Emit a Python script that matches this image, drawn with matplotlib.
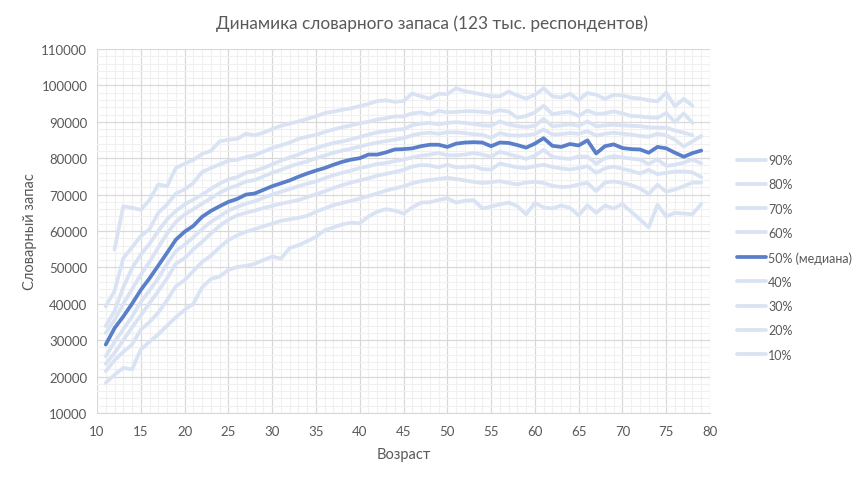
import matplotlib
matplotlib.use("Agg")
import matplotlib.pyplot as plt
from matplotlib.ticker import MultipleLocator
import numpy as np

plt.rcParams['font.family'] = ['Lato', 'DejaVu Sans']

ages_main = list(range(11, 80))      # 11..79
ages_90 = list(range(12, 79))        # 12..78
ages_80 = list(range(11, 79))        # 11..78
ages_70 = list(range(11, 79))        # 11..78

p90 = [54900, 66800, 66400, 65800, 68500, 72800, 72300, 77300, 78500, 79500,
       81200, 82000, 84600, 85100, 85300, 86700, 86300, 87000, 88000, 88900,
       89500, 90100, 90800, 91500, 92400, 92800, 93300, 93700, 94300, 94900,
       95700, 95900, 95500, 95700, 97800, 97000, 96400, 97700, 97600, 99200,
       98400, 98000, 97500, 97000, 97000, 98300, 97200, 96400, 97400, 99200,
       97000, 96700, 97700, 96000, 97900, 97400, 96300, 97400, 97300, 96600,
       96400, 95900, 95600, 98000, 94300, 96300, 94400]

p80 = [39300, 43500, 52500, 55500, 58600, 60500, 65000, 67300, 70300, 71400,
       73200, 76200, 77300, 78300, 79300, 79600, 80300, 80800, 81800, 82800,
       83500, 84300, 85300, 85900, 86400, 87200, 87900, 88500, 89000, 89600,
       90000, 90600, 91000, 91500, 91500, 92300, 92600, 92000, 93000, 92600,
       92700, 92900, 92900, 92700, 92500, 93200, 92800, 91100, 91600, 92600,
       94400, 92100, 92500, 92700, 91600, 93100, 92200, 92300, 92900, 92300,
       91600, 91500, 91200, 91100, 92400, 89900, 92300, 89700]

p70 = [33900, 38000, 44500, 49800, 53500, 56500, 60000, 63200, 65500, 67300,
       68600, 70000, 71600, 73000, 74200, 74800, 76000, 76500, 77300, 78300,
       79300, 80200, 81000, 82000, 82700, 83500, 84200, 84600, 85200, 85800,
       86500, 87100, 87400, 87800, 88000, 89100, 89500, 89700, 89300, 89700,
       89900, 89700, 89400, 89000, 88900, 90100, 89300, 88800, 88600, 88900,
       90800, 88800, 89000, 89300, 88900, 90100, 88800, 89000, 89200, 89000,
       88900, 88800, 88500, 88400, 88400, 87600, 87000, 86300]

p60 = [32000, 35500, 40000, 44000, 48000, 51500, 55500, 59300, 62500, 64500,
       66000, 67500, 69000, 70500, 71700, 72500, 73600, 74000, 75000, 76000,
       76800, 77700, 78500, 79100, 80000, 80700, 81500, 82100, 82600, 83200,
       83800, 84300, 84700, 85100, 85500, 86300, 86800, 87000, 86700, 87100,
       87100, 86900, 86600, 86400, 85600, 86900, 86300, 86200, 86300, 86600,
       87900, 86500, 86600, 86900, 86700, 87400, 86200, 86700, 87000, 86700,
       86500, 86100, 85900, 86700, 86300, 85100, 83200, 84600, 86100]

p50 = [28800, 33300, 36500, 40000, 43800, 47000, 50500, 54000, 57600, 59800,
       61400, 63900, 65500, 66800, 68000, 68800, 70000, 70300, 71300, 72300,
       73100, 73900, 74900, 75800, 76600, 77300, 78200, 79000, 79600, 80000,
       81000, 81000, 81600, 82400, 82500, 82700, 83300, 83700, 83700, 83100,
       84000, 84300, 84400, 84300, 83300, 84300, 84200, 83600, 82900, 84000,
       85500, 83400, 83100, 83900, 83500, 84900, 81300, 83300, 83800, 82800,
       82500, 82400, 81500, 83100, 82700, 81500, 80400, 81400, 82100]

p40 = [25600, 29500, 33000, 36500, 40500, 43700, 47000, 51000, 54500, 56200,
       58300, 60500, 62500, 64000, 65600, 66600, 67500, 68200, 69100, 70000,
       70800, 71500, 72300, 73000, 73600, 74500, 75300, 76000, 76600, 77300,
       77800, 78400, 78700, 79200, 79600, 80200, 80700, 81000, 81400, 80800,
       80800, 81000, 81400, 81000, 80400, 81800, 81100, 80500, 79800, 80700,
       82300, 80400, 80000, 79800, 80500, 80400, 78500, 80000, 80600, 80200,
       79900, 79600, 78400, 79700, 77900, 78200, 78800, 79600, 78600]

p30 = [23500, 26500, 30000, 33500, 36800, 40200, 43500, 47000, 51000, 52500,
       55000, 57000, 59300, 61400, 63100, 64300, 65000, 65600, 66300, 66900,
       67500, 68000, 68500, 69300, 70100, 70900, 71800, 72600, 73300, 73900,
       74500, 75200, 75700, 76200, 76800, 77700, 78100, 78000, 77500, 78200,
       77500, 77600, 77800, 77000, 76900, 78500, 78000, 77500, 77300, 77800,
       78200, 77600, 77200, 76900, 77300, 77800, 76000, 77200, 77700, 77100,
       76500, 75800, 76800, 75600, 76000, 76300, 76400, 76100, 74800]

p20 = [21500, 24500, 26800, 28800, 32900, 35000, 37600, 41000, 44800, 46500,
       49000, 51500, 53200, 55500, 57500, 58800, 59800, 60500, 61300, 62000,
       62800, 63200, 63600, 64200, 65300, 66200, 67100, 67700, 68300, 68900,
       69600, 70300, 71100, 71700, 72300, 73100, 73700, 74000, 74300, 74600,
       74300, 73900, 73500, 73200, 73400, 73700, 73200, 72800, 73300, 73500,
       73200, 72400, 72100, 72200, 72800, 73200, 71000, 73300, 73600, 73200,
       72600, 71700, 70200, 72700, 70800, 71400, 72300, 73300, 73300]

p10 = [18300, 20500, 22400, 22000, 27400, 29600, 31600, 34000, 36300, 38300,
       40000, 44500, 46800, 47500, 49300, 50100, 50400, 51000, 52000, 53000,
       52400, 55300, 56100, 57200, 58400, 60200, 61000, 61800, 62300, 62100,
       64000, 65300, 66000, 65600, 64800, 66500, 67800, 67900, 68500, 69000,
       67800, 68300, 68500, 66200, 66700, 67300, 67800, 66800, 64600, 67700,
       66500, 66200, 67000, 66400, 64300, 67100, 65000, 67000, 66200, 67400,
       65300, 63200, 61000, 67200, 64000, 65000, 64800, 64600, 67400]

labels = ['90%', '80%', '70%', '60%', '50% (медиана)', '40%', '30%', '20%', '10%']

light = '#dae3f3'
dark = '#5a7fca'

fig = plt.figure(figsize=(8.65, 4.81), dpi=100)
ax = fig.add_axes([97/865, 1-414/481, (710-97)/865, (414-50)/481])

series = [(ages_90, p90), (ages_80, p80), (ages_70, p70), (ages_main, p60),
          (ages_main, p50), (ages_main, p40), (ages_main, p30), (ages_main, p20),
          (ages_main, p10)]

handles = [None]*9
for i in [8, 7, 6, 5, 3, 2, 1, 0, 4]:
    x, y = series[i]
    c = dark if i == 4 else light
    h, = ax.plot(x, y, color=c, lw=2.7, solid_joinstyle='round',
                 solid_capstyle='round', zorder=3 + (1 if i == 4 else 0))
    handles[i] = h

ax.set_xlim(10, 80)
ax.set_ylim(10000, 110000)
ax.xaxis.set_major_locator(MultipleLocator(5))
ax.xaxis.set_minor_locator(MultipleLocator(1))
ax.yaxis.set_major_locator(MultipleLocator(10000))
ax.yaxis.set_minor_locator(MultipleLocator(2000))
ax.grid(which='major', color='#d9d9d9', lw=0.9)
ax.grid(which='minor', color='#f0f0f0', lw=0.8)
ax.set_axisbelow(True)
for s in ['top', 'right', 'left']:
    ax.spines[s].set_visible(False)
ax.spines['bottom'].set_color('#d9d9d9')
ax.tick_params(axis='both', which='both', length=0, labelsize=9.5, colors='#595959')
ax.tick_params(axis='x', which='major', pad=9)
ax.tick_params(axis='y', which='major', pad=7)

ax.set_xlabel('Возраст', fontsize=10.5, color='#595959', labelpad=7)
ax.set_ylabel('Словарный запас', fontsize=10.5, color='#595959', labelpad=3)
fig.text(0.5, 1-24/481, 'Динамика словарного запаса (123 тыс. респондентов)',
         ha='center', va='center', fontsize=12.4, color='#595959')

leg = fig.legend(handles, labels, loc='upper left', bbox_to_anchor=(732/865, 1-150/481),
                 frameon=False, fontsize=9, handlelength=2.3, handletextpad=0.2,
                 labelspacing=0.98, labelcolor='#595959', borderaxespad=0)

fig.savefig('out.png', dpi=100)
